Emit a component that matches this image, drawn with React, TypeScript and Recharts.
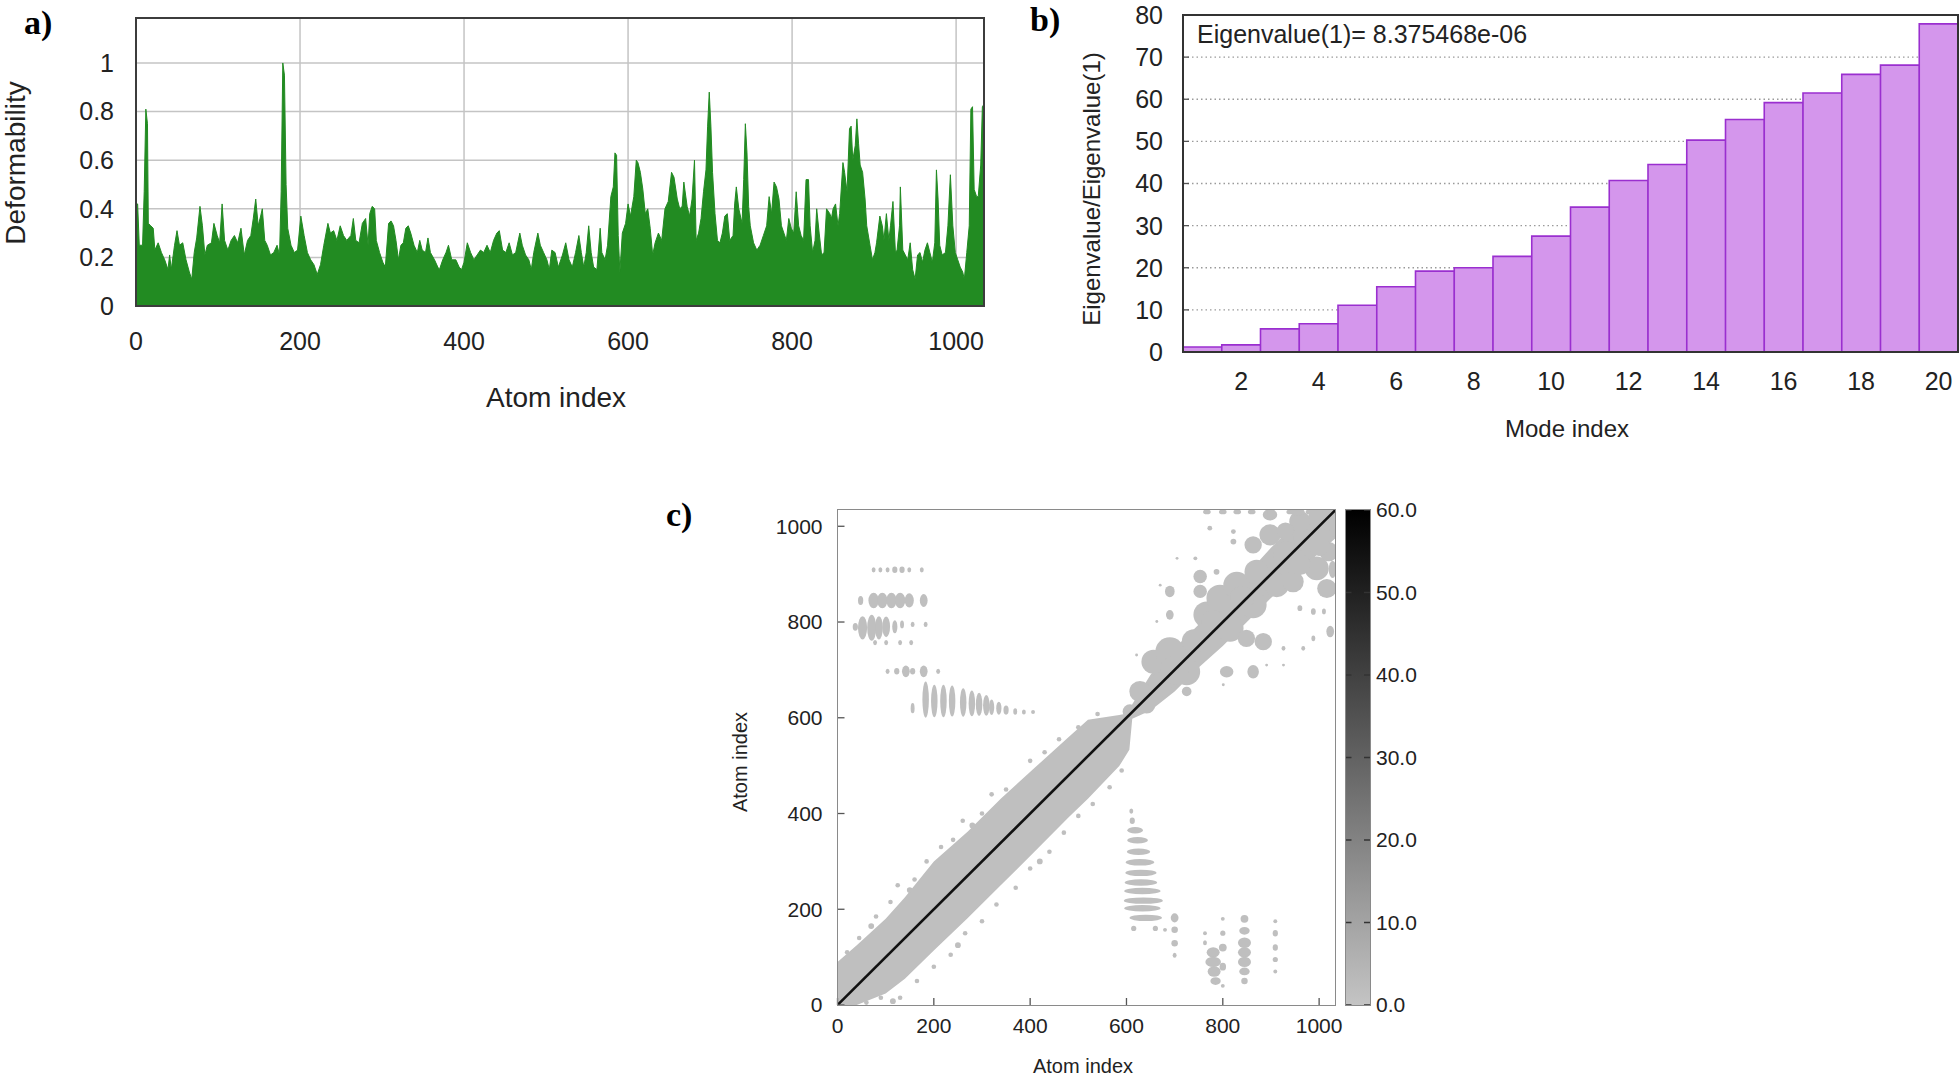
import React from 'react';
import {
  AreaChart,
  Area,
  BarChart,
  Bar,
  ComposedChart,
  Scatter,
  XAxis,
  YAxis,
  CartesianGrid,
} from 'recharts';

const FONT = '"Liberation Sans", Arial, Helvetica, sans-serif';
const SERIF = '"Liberation Serif", "Times New Roman", serif';

// ---- a) deformability per atom, [atom index, deformability]
const deformability: [number, number][] = [
  [0, 0.42], [2, 0.42], [4, 0.25], [8, 0.25], [10, 0.47], [12, 0.81], [14, 0.75], [15, 0.34], [18, 0.33], [21, 0.32],
  [23, 0.23], [27, 0.26], [31, 0.22], [35, 0.19], [39, 0.15], [41, 0.21], [43, 0.15], [47, 0.25], [50, 0.31], [53, 0.25],
  [57, 0.26], [61, 0.19], [65, 0.14], [68, 0.11], [71, 0.22], [74, 0.28], [78, 0.41], [81, 0.33], [84, 0.21], [87, 0.25],
  [92, 0.26], [95, 0.34], [99, 0.29], [102, 0.26], [105, 0.42], [108, 0.27], [112, 0.23], [116, 0.27], [120, 0.29], [124, 0.26],
  [128, 0.32], [132, 0.21], [136, 0.27], [140, 0.29], [143, 0.36], [146, 0.44], [149, 0.33], [152, 0.37], [154, 0.4], [157, 0.27],
  [160, 0.25], [164, 0.21], [168, 0.22], [172, 0.25], [175, 0.21], [177, 0.47], [179, 1.0], [181, 0.95], [183, 0.5], [185, 0.32],
  [189, 0.25], [193, 0.22], [197, 0.23], [201, 0.37], [205, 0.29], [209, 0.22], [213, 0.19], [217, 0.17], [221, 0.13], [225, 0.17],
  [229, 0.25], [234, 0.34], [237, 0.3], [241, 0.31], [245, 0.27], [249, 0.33], [253, 0.29], [257, 0.27],
  [262, 0.29], [265, 0.36], [268, 0.27], [272, 0.26], [276, 0.34], [280, 0.36], [283, 0.25], [285, 0.38], [288, 0.41], [291, 0.4],
  [293, 0.27], [297, 0.22], [301, 0.18], [304, 0.16], [308, 0.34], [311, 0.35], [314, 0.33], [317, 0.27], [320, 0.19], [323, 0.25],
  [326, 0.26], [329, 0.32], [332, 0.33], [335, 0.3], [339, 0.25], [343, 0.22], [346, 0.27], [349, 0.23], [353, 0.22], [356, 0.28],
  [359, 0.22], [364, 0.19], [368, 0.16], [370, 0.15], [374, 0.19], [378, 0.22], [381, 0.25], [385, 0.19], [390, 0.19], [394, 0.16],
  [397, 0.15], [400, 0.18], [404, 0.26], [408, 0.22], [412, 0.19], [416, 0.21], [420, 0.23], [424, 0.22], [428, 0.25], [432, 0.22],
  [436, 0.27], [440, 0.3], [443, 0.31], [447, 0.23], [451, 0.22], [455, 0.26], [459, 0.21], [463, 0.22], [468, 0.3], [471, 0.25],
  [475, 0.21], [479, 0.19], [482, 0.15], [485, 0.22], [490, 0.3], [493, 0.25], [497, 0.22], [501, 0.19], [504, 0.15], [507, 0.23],
  [511, 0.22], [515, 0.16], [520, 0.21], [524, 0.26], [528, 0.19], [532, 0.16], [536, 0.22], [540, 0.29], [543, 0.22], [546, 0.16],
  [549, 0.22], [552, 0.33], [555, 0.22], [558, 0.16], [562, 0.15], [566, 0.32], [568, 0.22], [572, 0.19], [575, 0.25], [579, 0.45],
  [582, 0.49], [584, 0.63], [586, 0.62], [588, 0.29], [590, 0.14], [593, 0.3], [597, 0.34], [600, 0.42], [603, 0.37], [607, 0.45],
  [610, 0.6], [612, 0.59], [615, 0.55], [618, 0.48], [621, 0.38], [624, 0.4], [627, 0.32], [630, 0.21], [633, 0.26], [637, 0.3],
  [641, 0.27], [645, 0.4], [649, 0.43], [653, 0.55], [656, 0.53], [660, 0.44], [663, 0.4], [666, 0.41], [668, 0.51], [672, 0.41],
  [675, 0.37], [678, 0.44], [681, 0.6], [683, 0.27], [686, 0.3], [689, 0.36], [692, 0.47], [695, 0.56], [697, 0.74], [699, 0.88],
  [701, 0.74], [703, 0.55], [706, 0.38], [709, 0.27], [712, 0.26], [715, 0.3], [718, 0.37], [721, 0.38], [724, 0.27], [728, 0.29],
  [730, 0.42], [732, 0.49], [735, 0.4], [739, 0.34], [741, 0.52], [743, 0.75], [745, 0.63], [747, 0.41], [749, 0.33], [753, 0.26],
  [757, 0.23], [761, 0.25], [765, 0.29], [769, 0.33], [772, 0.45], [775, 0.38], [778, 0.51], [781, 0.49], [784, 0.44], [787, 0.33],
  [790, 0.3], [793, 0.27], [796, 0.36], [799, 0.32], [802, 0.3], [805, 0.47], [808, 0.33], [811, 0.29], [814, 0.27], [817, 0.52],
  [820, 0.52], [822, 0.33], [825, 0.22], [828, 0.27], [830, 0.4], [833, 0.3], [836, 0.21], [839, 0.22], [842, 0.4], [846, 0.38],
  [848, 0.36], [850, 0.4], [853, 0.42], [856, 0.33], [858, 0.38], [862, 0.59], [864, 0.55], [867, 0.47], [870, 0.73], [872, 0.74],
  [874, 0.6], [877, 0.66], [879, 0.77], [881, 0.67], [883, 0.58], [886, 0.55], [889, 0.44], [891, 0.33], [895, 0.25], [898, 0.19],
  [901, 0.22], [903, 0.26], [907, 0.37], [910, 0.33], [912, 0.27], [915, 0.38], [918, 0.27], [920, 0.33], [923, 0.43], [926, 0.22],
  [928, 0.23], [931, 0.33], [932, 0.49], [935, 0.23], [938, 0.21], [941, 0.19], [944, 0.26], [947, 0.15], [950, 0.11], [953, 0.21],
  [956, 0.22], [959, 0.18], [962, 0.23], [965, 0.26], [968, 0.22], [971, 0.18], [974, 0.26], [976, 0.56], [978, 0.44], [980, 0.25],
  [983, 0.21], [987, 0.22], [990, 0.33], [993, 0.54], [996, 0.33], [999, 0.22], [1002, 0.19], [1005, 0.16], [1008, 0.14], [1010, 0.11],
  [1013, 0.22], [1016, 0.33], [1018, 0.81], [1020, 0.82], [1022, 0.48], [1025, 0.45], [1027, 0.45], [1030, 0.58], [1032, 0.82], [1034, 0.83],
];
const atomTicks = [0, 200, 400, 600, 800, 1000];
const deformTicks = [0, 0.2, 0.4, 0.6, 0.8, 1];

// ---- b) eigenvalue ratios of the first 20 modes
const modeIndex = [1, 2, 3, 4, 5, 6, 7, 8, 9, 10, 11, 12, 13, 14, 15, 16, 17, 18, 19, 20];
const eigenRatio = [1.2, 1.7, 5.5, 6.7, 11.1, 15.5, 19.2, 20.0, 22.7, 27.5, 34.4, 40.7, 44.5, 50.3, 55.2, 59.2, 61.5, 65.9, 68.1, 77.9];
const ratioTicks = [0, 10, 20, 30, 40, 50, 60, 70, 80];
const eigenvalueOne = '8.375468e-06';

// ---- c) contact map
const nAtoms = 1034;
const bandX = [0, 40, 100, 140, 200, 270, 340, 410, 480, 520, 585, 606, 612, 650, 700, 750, 800, 850, 900, 950, 1000, 1034];
const bandLow = [0, 0, 24, 55, 114, 181, 251, 321, 392, 431, 499, 533, 598, 615, 655, 705, 750, 800, 850, 895, 945, 975];
const bandHigh = [90, 125, 180, 225, 300, 362, 432, 496, 560, 596, 606, 610, 628, 690, 745, 795, 850, 900, 955, 1005, 1034, 1034];
const diagonal = [0, nAtoms];
// [atom i, atom j, half span i, half span j]
const bandFringe: [number, number, number, number][] = [
  [20, 110, 4, 4], [45, 140, 4, 4], [80, 185, 4, 4], [110, 215, 4, 4], [125, 250, 4, 4], [160, 262, 4, 4], [185, 300, 4, 4],
  [215, 330, 4, 4], [240, 345, 4, 4], [260, 385, 4, 4], [300, 400, 4, 4], [320, 440, 4, 4], [350, 450, 4, 4], [400, 510, 4, 4],
  [430, 528, 4, 4], [460, 555, 4, 4], [500, 580, 4, 4], [540, 608, 4, 4], [70, 165, 5, 5], [150, 240, 5, 5], [280, 375, 5, 5],
  [60, 5, 4, 4], [90, 15, 4, 4], [130, 15, 4, 4], [165, 50, 4, 4], [200, 80, 4, 4], [235, 105, 4, 4], [265, 150, 4, 4],
  [300, 175, 4, 4], [330, 210, 4, 4], [370, 245, 4, 4], [400, 285, 4, 4], [440, 320, 4, 4], [470, 360, 4, 4], [500, 395, 4, 4],
  [530, 420, 4, 4], [565, 455, 4, 4], [590, 490, 4, 4], [115, 8, 5, 5], [250, 125, 5, 5], [420, 300, 5, 5],
];
const upperContacts: [number, number, number, number][] = [
  [607, 613, 15, 15], [628, 655, 22, 22], [642, 627, 18, 18], [670, 669, 25, 25], [656, 717, 25, 25], [690, 738, 30, 30],
  [725, 696, 28, 28], [725, 655, 10, 10], [767, 815, 28, 28], [794, 850, 28, 28], [815, 787, 28, 28], [829, 877, 28, 28],
  [863, 836, 28, 28], [870, 905, 25, 25], [849, 766, 18, 18], [884, 759, 18, 18], [912, 877, 25, 25], [932, 940, 28, 28],
  [974, 975, 28, 28], [1002, 1017, 25, 25], [898, 982, 22, 22], [946, 884, 22, 22], [995, 912, 25, 25], [1016, 870, 20, 20],
  [1020, 947, 20, 20], [863, 961, 18, 18], [898, 1024, 15, 12], [960, 829, 5, 6], [988, 822, 5, 7], [1010, 822, 4, 6],
  [1023, 780, 8, 12], [926, 745, 4, 5], [967, 745, 4, 5], [988, 766, 4, 6], [808, 696, 14, 12], [863, 696, 12, 14],
  [891, 710, 3, 3], [926, 710, 3, 3], [801, 669, 3, 3], [753, 895, 14, 14], [753, 864, 14, 14], [690, 864, 10, 12],
  [690, 815, 8, 10], [787, 905, 6, 6], [822, 968, 6, 6], [822, 989, 5, 5], [773, 996, 5, 5], [743, 933, 4, 4],
  [705, 933, 3, 3], [670, 877, 3, 3], [663, 801, 3, 3], [621, 731, 3, 3], [767, 1030, 8, 5], [800, 1030, 8, 5],
  [830, 1030, 8, 5], [860, 1030, 8, 5], [900, 1030, 8, 5], [940, 1030, 8, 5], [980, 1030, 8, 5],
  [700, 700, 30, 30], [740, 760, 25, 25], [780, 800, 25, 25], [840, 850, 25, 25], [960, 1010, 22, 22], [1030, 1000, 10, 22],
  [1000, 960, 22, 22], [960, 920, 22, 22], [1028, 910, 8, 18], [930, 990, 18, 18], [955, 1030, 15, 8], [1020, 1030, 14, 8],
];
const offDiagonalContacts: [number, number, number, number][] = [
  [75, 909, 3, 4], [89, 909, 3, 4], [104, 909, 3, 4], [119, 909, 4, 5], [134, 909, 4, 5], [149, 909, 3, 4], [175, 909, 3, 4],
  [48, 845, 4, 7], [75, 845, 8, 12], [93, 845, 8, 12], [112, 845, 8, 12], [130, 845, 8, 12], [149, 845, 7, 11], [179, 845, 6, 10],
  [37, 790, 4, 6], [52, 788, 7, 18], [71, 788, 7, 20], [86, 788, 6, 18], [101, 790, 6, 16], [119, 790, 4, 10], [134, 795, 3, 6],
  [156, 795, 3, 4], [183, 795, 3, 4], [78, 757, 3, 4], [101, 757, 3, 4], [130, 757, 3, 4], [153, 757, 3, 4],
  [104, 697, 3, 4], [123, 697, 4, 5], [142, 697, 6, 9], [156, 697, 4, 5], [179, 697, 6, 9], [209, 697, 3, 4],
  [156, 620, 3, 8], [183, 638, 5, 28], [201, 635, 5, 25], [220, 635, 5, 25], [238, 635, 5, 24], [261, 632, 5, 22],
  [279, 630, 5, 20], [294, 628, 5, 18], [309, 626, 5, 16], [320, 622, 4, 12], [335, 620, 4, 10], [350, 616, 4, 7],
  [369, 613, 3, 5], [387, 612, 3, 4], [406, 612, 3, 3],
  [610, 405, 3, 4], [612, 385, 4, 5], [618, 365, 12, 5], [623, 344, 16, 5], [625, 320, 18, 5], [628, 298, 22, 5],
  [630, 276, 24, 5], [630, 256, 25, 5], [633, 238, 28, 5], [635, 218, 30, 5], [633, 202, 28, 5], [640, 182, 25, 5],
  [615, 160, 4, 4], [660, 160, 4, 4],
  [700, 182, 6, 7], [700, 157, 5, 5], [700, 129, 5, 5], [700, 104, 3, 4], [680, 157, 3, 3],
  [763, 150, 3, 3], [763, 130, 3, 4], [780, 110, 10, 8], [780, 90, 12, 8], [782, 70, 10, 8], [785, 50, 8, 6],
  [800, 180, 3, 3], [800, 150, 4, 4], [800, 120, 6, 6], [800, 80, 5, 6], [800, 40, 3, 3],
  [845, 180, 6, 6], [845, 155, 8, 6], [845, 130, 10, 8], [845, 110, 10, 8], [845, 90, 10, 8], [845, 70, 8, 6], [845, 50, 5, 5],
  [909, 175, 3, 3], [909, 150, 4, 5], [909, 120, 4, 5], [909, 95, 4, 4], [909, 70, 3, 3],
];
const colorTicks = [0, 10, 20, 30, 40, 50, 60];

const GREEN = '#228b22';
const CONTACT_GREY = '#bfbfbf';
const C_PLOT_W = 498;
const C_PLOT_H = 495;

function bottomTick(margin: number, inward: number, fontSize: number, fmt?: (v: any) => string) {
  return (p: any) => {
    const v = p.payload.value;
    const label = fmt ? fmt(v) : String(v);
    return (
      <g>
        {inward > 0 && (
          <line x1={p.x} x2={p.x} y1={p.y - margin} y2={p.y - margin - inward} stroke="#555" strokeWidth={1.3} />
        )}
        <text x={p.x} y={p.y} dy="0.71em" textAnchor="middle" fontSize={fontSize} fill="#222" fontFamily={FONT}>
          {label}
        </text>
      </g>
    );
  };
}

function leftTick(margin: number, inward: number, fontSize: number, fmt?: (v: any) => string) {
  return (p: any) => {
    const v = p.payload.value;
    const label = fmt ? fmt(v) : String(v);
    return (
      <g>
        {inward > 0 && (
          <line x1={p.x + margin} x2={p.x + margin + inward} y1={p.y} y2={p.y} stroke="#555" strokeWidth={1.3} />
        )}
        <text x={p.x} y={p.y} dy="0.355em" textAnchor="end" fontSize={fontSize} fill="#222" fontFamily={FONT}>
          {label}
        </text>
      </g>
    );
  };
}

const topTickMark = (p: any) => (
  <line x1={p.x} x2={p.x} y1={p.y} y2={p.y + 7} stroke="#555" strokeWidth={1.3} />
);
const rightTickMark = (p: any) => (
  <line x1={p.x} x2={p.x - 7} y1={p.y} y2={p.y} stroke="#555" strokeWidth={1.3} />
);

const colorTick = (p: any) => (
  <g>
    <line x1={p.x - 6} x2={p.x - 12} y1={p.y} y2={p.y} stroke="#333" strokeWidth={1.5} />
    <line x1={p.x - 30.5} x2={p.x - 24.5} y1={p.y} y2={p.y} stroke="#333" strokeWidth={1.5} />
    <text x={p.x} y={p.y} dy="0.355em" textAnchor="start" fontSize={21} fill="#222" fontFamily={FONT}>
      {Number(p.payload.value).toFixed(1)}
    </text>
  </g>
);

function contactShape(grow: number) {
  return (p: any) => (
    <ellipse
      cx={p.cx}
      cy={p.cy}
      rx={(p.payload.sx * grow * C_PLOT_W) / nAtoms}
      ry={(p.payload.sy * grow * C_PLOT_H) / nAtoms}
      fill={CONTACT_GREY}
    />
  );
}
const noShape = () => <g />;

function RotLabel({ x, y, size, text }: { x: number; y: number; size: number; text: string }) {
  return (
    <div
      style={{
        position: 'absolute',
        left: x,
        top: y,
        transform: 'translate(-50%, -50%) rotate(-90deg)',
        whiteSpace: 'nowrap',
        fontSize: size,
        fontFamily: FONT,
        color: '#222',
        lineHeight: 1,
      }}
    >
      {text}
    </div>
  );
}

function HLabel({ x, y, size, text }: { x: number; y: number; size: number; text: string }) {
  return (
    <div
      style={{
        position: 'absolute',
        left: x,
        top: y,
        transform: 'translate(-50%, -50%)',
        whiteSpace: 'nowrap',
        fontSize: size,
        fontFamily: FONT,
        color: '#222',
        lineHeight: 1,
      }}
    >
      {text}
    </div>
  );
}

function PanelTag({ x, y, text }: { x: number; y: number; text: string }) {
  return (
    <div
      style={{
        position: 'absolute',
        left: x,
        top: y,
        fontSize: 34,
        fontWeight: 'bold',
        fontFamily: SERIF,
        lineHeight: 1,
        color: '#000',
      }}
    >
      {text}
    </div>
  );
}

function Frame({ l, t, w, h, c, bw }: { l: number; t: number; w: number; h: number; c: string; bw: number }) {
  return (
    <div
      style={{
        position: 'absolute',
        left: l - bw / 2,
        top: t - bw / 2,
        width: w + bw,
        height: h + bw,
        border: `${bw}px solid ${c}`,
        boxSizing: 'border-box',
        pointerEvents: 'none',
      }}
    />
  );
}

export default function App() {
  const deformData = deformability.map(([atom, d]) => ({ atom, d }));
  const eigenData = modeIndex.map((m, i) => ({ mode: m, ratio: eigenRatio[i] }));
  const bandData = bandX.map((x, i) => ({ x, range: [bandLow[i], bandHigh[i]] }));
  const diagData = diagonal.map((v) => ({ x: v, y: v }));
  const toPts = (arr: [number, number, number, number][]) => arr.map(([x, y, sx, sy]) => ({ x, y, sx, sy }));

  return (
    <div
      style={{
        position: 'fixed',
        left: 0,
        top: 0,
        width: 1960,
        height: 1078,
        background: '#fff',
        overflow: 'hidden',
        fontFamily: FONT,
      }}
    >
      {/* a) */}
      <div style={{ position: 'absolute', left: 0, top: 0 }}>
        <AreaChart width={1000} height={420} data={deformData} margin={{ top: 18, right: 16, left: 76, bottom: 54 }}>
          <CartesianGrid stroke="#c4c4c4" strokeWidth={1.5} />
          <XAxis
            dataKey="atom"
            type="number"
            domain={[0, nAtoms]}
            ticks={atomTicks}
            height={60}
            axisLine={false}
            tickLine={false}
            tickSize={0}
            tickMargin={26}
            tick={bottomTick(26, 0, 25)}
            allowDataOverflow
          />
          <YAxis
            type="number"
            domain={[0, 1.185]}
            ticks={deformTicks}
            width={60}
            axisLine={false}
            tickLine={false}
            tickSize={0}
            tickMargin={22}
            tick={leftTick(22, 0, 25)}
            allowDataOverflow
          />
          <Area
            type="linear"
            dataKey="d"
            stroke={GREEN}
            strokeWidth={1}
            fill={GREEN}
            fillOpacity={1}
            dot={false}
            isAnimationActive={false}
          />
        </AreaChart>
      </div>
      <Frame l={136} t={18} w={848} h={288} c="#3c3c3c" bw={2.5} />
      <RotLabel x={16} y={163} size={28} text="Deformability" />
      <HLabel x={556} y={398} size={28} text="Atom index" />
      <PanelTag x={24} y={6} text="a)" />

      {/* b) */}
      <div style={{ position: 'absolute', left: 1040, top: 0 }}>
        <BarChart
          width={920}
          height={460}
          data={eigenData}
          margin={{ top: 15, right: 2, left: 63, bottom: 48 }}
          barCategoryGap={0}
          barGap={0}
        >
          <CartesianGrid vertical={false} stroke="#9a9a9a" strokeDasharray="1.5 3" strokeWidth={1.3} />
          <XAxis
            dataKey="mode"
            height={60}
            interval={0}
            axisLine={false}
            tickLine={false}
            tickSize={0}
            tickMargin={20}
            tick={bottomTick(20, 0, 25, (v) => (Number(v) % 2 === 0 ? String(v) : ''))}
          />
          <YAxis
            type="number"
            domain={[0, 80]}
            ticks={ratioTicks}
            width={80}
            axisLine={false}
            tickLine={false}
            tickSize={0}
            tickMargin={20}
            tick={leftTick(20, 6, 25)}
            allowDataOverflow
          />
          <Bar dataKey="ratio" fill="#d496ec" stroke="#9a2fcf" strokeWidth={1.6} isAnimationActive={false} />
        </BarChart>
      </div>
      <Frame l={1183} t={15} w={775} h={337} c="#333" bw={2} />
      <div
        style={{
          position: 'absolute',
          left: 1197,
          top: 34,
          transform: 'translateY(-50%)',
          fontSize: 25,
          fontFamily: FONT,
          color: '#222',
          whiteSpace: 'nowrap',
          lineHeight: 1,
        }}
      >
        {`Eigenvalue(1)= ${eigenvalueOne}`}
      </div>
      <RotLabel x={1092} y={189} size={24} text="Eigenvalue/Eigenvalue(1)" />
      <HLabel x={1567} y={429} size={24} text="Mode index" />
      <PanelTag x={1030} y={3} text="b)" />

      {/* c) */}
      <div style={{ position: 'absolute', left: 700, top: 495 }}>
        <ComposedChart width={665} height={580} margin={{ top: 15, right: 29.5, left: 67.5, bottom: 20 }}>
          <XAxis
            dataKey="x"
            type="number"
            domain={[0, nAtoms]}
            ticks={atomTicks}
            height={50}
            axisLine={false}
            tickLine={false}
            tickSize={0}
            tickMargin={13}
            tick={bottomTick(13, 7, 21)}
            allowDataOverflow
          />
          <XAxis
            xAxisId="top"
            orientation="top"
            type="number"
            domain={[0, nAtoms]}
            ticks={atomTicks}
            height={0}
            axisLine={false}
            tickLine={false}
            tickSize={0}
            tickMargin={0}
            tick={topTickMark}
          />
          <YAxis
            dataKey="y"
            type="number"
            domain={[0, nAtoms]}
            ticks={atomTicks}
            width={70}
            axisLine={false}
            tickLine={false}
            tickSize={0}
            tickMargin={15}
            tick={leftTick(15, 7, 21)}
            allowDataOverflow
          />
          <YAxis
            yAxisId="right"
            orientation="right"
            type="number"
            domain={[0, nAtoms]}
            ticks={atomTicks}
            width={0}
            axisLine={false}
            tickLine={false}
            tickSize={0}
            tickMargin={0}
            tick={rightTickMark}
          />
          <Area
            data={bandData}
            type="linear"
            dataKey="range"
            stroke="none"
            fill={CONTACT_GREY}
            fillOpacity={1}
            dot={false}
            isAnimationActive={false}
          />
          <Scatter data={toPts(bandFringe)} shape={contactShape(1.2)} isAnimationActive={false} />
          <Scatter data={toPts(upperContacts)} shape={contactShape(1)} isAnimationActive={false} />
          <Scatter data={toPts(offDiagonalContacts)} shape={contactShape(1.35)} isAnimationActive={false} />
          <Scatter
            data={diagData}
            shape={noShape}
            line={{ stroke: '#111', strokeWidth: 2.6 }}
            lineType="joint"
            isAnimationActive={false}
          />
        </ComposedChart>
      </div>
      <Frame l={837.5} t={510} w={498} h={495} c="#8a8a8a" bw={1.5} />

      <div style={{ position: 'absolute', left: 1330, top: 495 }}>
        <BarChart
          width={110}
          height={580}
          data={[{ name: 'scale', v: 60 }]}
          margin={{ top: 15, right: 0, left: 15.5, bottom: 70 }}
          barCategoryGap={0}
        >
          <defs>
            <linearGradient id="cbGrad" x1="0" y1="1" x2="0" y2="0">
              <stop offset="0%" stopColor="#c4c4c4" />
              <stop offset="100%" stopColor="#000000" />
            </linearGradient>
          </defs>
          <XAxis dataKey="name" hide />
          <YAxis
            orientation="right"
            type="number"
            domain={[0, 60]}
            ticks={colorTicks}
            width={70}
            axisLine={false}
            tickLine={false}
            tickSize={0}
            tickMargin={6}
            tick={colorTick}
          />
          <Bar dataKey="v" fill="url(#cbGrad)" isAnimationActive={false} />
        </BarChart>
      </div>
      <Frame l={1345.5} t={510} w={24.5} h={495} c="#8a8a8a" bw={1.5} />
      <RotLabel x={740} y={762} size={20} text="Atom index" />
      <HLabel x={1083} y={1066} size={20} text="Atom index" />
      <PanelTag x={666} y={498} text="c)" />
    </div>
  );
}
